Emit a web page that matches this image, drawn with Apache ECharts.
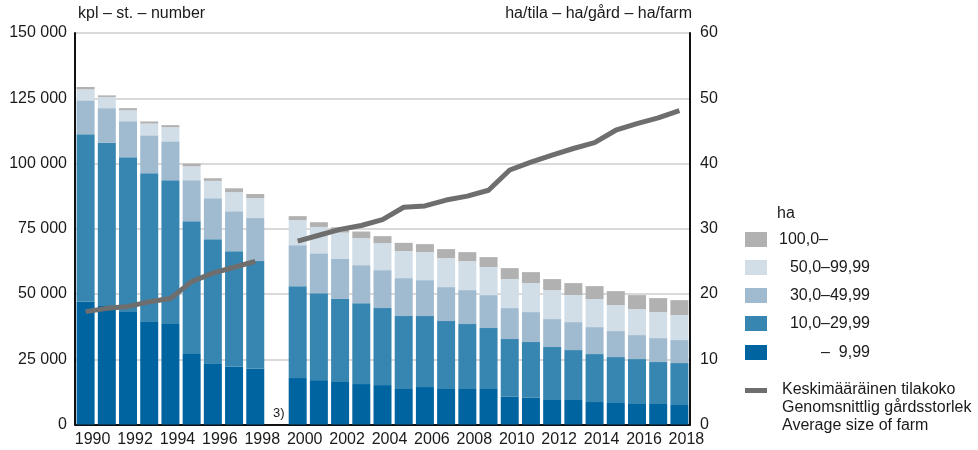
<!DOCTYPE html>
<html>
<head>
<meta charset="utf-8">
<script src="https://cdn.jsdelivr.net/npm/echarts@6/dist/echarts.min.js"></script>
<style>
html,body{margin:0;padding:0;background:#fff;}
#chart{width:978px;height:450px;}
</style>
</head>
<body>
<div id="chart"></div>
<script>
const years = ['1990','1991','1992','1993','1994','1995','1996','1997','1998','1999',
  '2000','2001','2002','2003','2004','2005','2006','2007','2008','2009',
  '2010','2011','2012','2013','2014','2015','2016','2017','2018'];
const under10 = [47000,45400,43100,39600,38500,27000,23500,22100,21400,null,17800,17000,16300,15500,15100,13600,14350,13600,13600,13600,10650,10270,9380,9380,8610,8230,7850,7850,7460];
const r10to30 = [64200,62500,59300,56700,55100,50900,47500,44300,41200,null,35200,33300,31800,31000,29500,27940,27180,26030,24880,23350,22080,21310,20290,19140,18380,17610,17220,16080,16080];
const r30to50 = [13000,13300,13800,14500,14900,15700,15700,15300,16500,null,15700,15300,15300,14550,14540,14550,13780,13020,13020,12630,11870,11490,10720,10720,10330,9950,9190,9180,8810];
const r50to100 = [4200,4300,4200,4500,5400,5350,6650,7300,7650,null,9600,10100,10100,10330,10340,10340,10720,11100,11100,10720,11100,11100,11100,10330,10720,9960,9950,9960,9570];
const over100 = [900,600,800,800,800,1000,1000,1500,1550,null,1530,1800,2050,2560,2680,3180,3070,3440,3440,3830,4210,4210,4210,4600,4980,5350,5360,5350,5740];
const avgSize = [17.3,17.8,18.1,18.8,19.3,21.9,23.2,24.1,25.0,null,28.1,29.0,29.9,30.5,31.4,33.3,33.5,34.4,35.0,35.9,39.0,40.2,41.3,42.3,43.2,45.1,46.1,47.0,48.1];
const leftTicks = [0,25000,50000,75000,100000,125000,150000];
const rightTicks = [0,10,20,30,40,50,60];
const legendNames = ['100,0–','50,0–99,99','30,0–49,99','10,0–29,99','–  9,99'];
const lineNames = ['Keskimääräinen tilakoko','Genomsnittlig gårdsstorlek','Average size of farm'];

const FONT = 'Liberation Sans, Arial, sans-serif';
const TXT = '#1a1a1a';
const colors = ['#0064a1','#3786b2','#a0bad0','#d2dee7','#b1b1b1'];
const lineColor = '#6e6e6e';

const chart = echarts.init(document.getElementById('chart'), null, {renderer:'canvas'});

function barSeries(name, data, color){
  return {name, type:'bar', stack:'farms', data, barWidth:18,
    itemStyle:{color}, emphasis:{disabled:true}, animation:false, z:2};
}

const legendItems = [];
const legendColors = [colors[4],colors[3],colors[2],colors[1],colors[0]];
const ys = [232,260,288,316,345];
legendItems.push({type:'text', left:777, top:206, style:{text:'ha', font:'16px '+FONT, fill:TXT}});
for(let i=0;i<5;i++){
  legendItems.push({type:'rect', shape:{x:745,y:ys[i],width:22,height:15}, style:{fill:legendColors[i]}});
  if(i===0){
    legendItems.push({type:'text', x:779, y:ys[i]+8, style:{text:legendNames[i], font:'16px '+FONT, fill:TXT, textAlign:'left', textVerticalAlign:'middle'}});
  } else {
    legendItems.push({type:'text', x:870, y:ys[i]+8, style:{text:legendNames[i], font:'16px '+FONT, fill:TXT, textAlign:'right', textVerticalAlign:'middle'}});
  }
}
legendItems.push({type:'rect', shape:{x:745,y:388,width:22,height:5}, style:{fill:lineColor}});
lineNames.forEach((t,i)=>{
  legendItems.push({type:'text', x:782, y:390+i*18, style:{text:t, font:'16px '+FONT, fill:TXT, textAlign:'left', textVerticalAlign:'middle'}});
});
legendItems.push({type:'text', x:273, y:413, style:{text:'3)', font:'13px '+FONT, fill:TXT, textVerticalAlign:'middle'}});
legendItems.push({type:'text', x:78, y:14, style:{text:'kpl – st. – number', font:'16px '+FONT, fill:TXT, textVerticalAlign:'middle'}});
legendItems.push({type:'text', x:692, y:14, style:{text:'ha/tila – ha/gård – ha/farm', font:'16px '+FONT, fill:TXT, textAlign:'right', textVerticalAlign:'middle'}});

const option = {
  animation:false,
  grid:{left:75, right:288, top:33, bottom:25.5, containLabel:false},
  xAxis:{type:'category', data:years, boundaryGap:true,
    axisLine:{lineStyle:{color:'#111', width:2}},
    axisTick:{show:false},
    axisLabel:{interval:1, color:TXT, fontSize:16, fontFamily:FONT, margin:7, padding:[0,0,0,14]}
  },
  yAxis:[
    {type:'value', min:0, max:150000, interval:25000, position:'left',
      axisLine:{show:true, lineStyle:{color:'#111', width:2}},
      axisTick:{show:false},
      splitLine:{lineStyle:{color:'#cdcdcd', width:1.5}},
      axisLabel:{color:TXT, fontSize:16, fontFamily:FONT, margin:8,
        formatter:v=>String(v).replace(/\B(?=(\d{3})+(?!\d))/g,' ')}
    },
    {type:'value', min:0, max:60, interval:10, position:'right',
      axisLine:{show:true, lineStyle:{color:'#111', width:2}},
      axisTick:{show:false},
      splitLine:{show:false},
      axisLabel:{color:TXT, fontSize:16, fontFamily:FONT, margin:10}
    }
  ],
  series:[
    barSeries('–  9,99', under10, colors[0]),
    barSeries('10,0–29,99', r10to30, colors[1]),
    barSeries('30,0–49,99', r30to50, colors[2]),
    barSeries('50,0–99,99', r50to100, colors[3]),
    barSeries('100,0–', over100, colors[4]),
    {name:'avg', type:'line', yAxisIndex:1, data:avgSize, connectNulls:false,
      symbol:'none', lineStyle:{color:lineColor, width:5}, z:5, emphasis:{disabled:true}}
  ],
  graphic:legendItems
};
chart.setOption(option);
</script>
</body>
</html>
